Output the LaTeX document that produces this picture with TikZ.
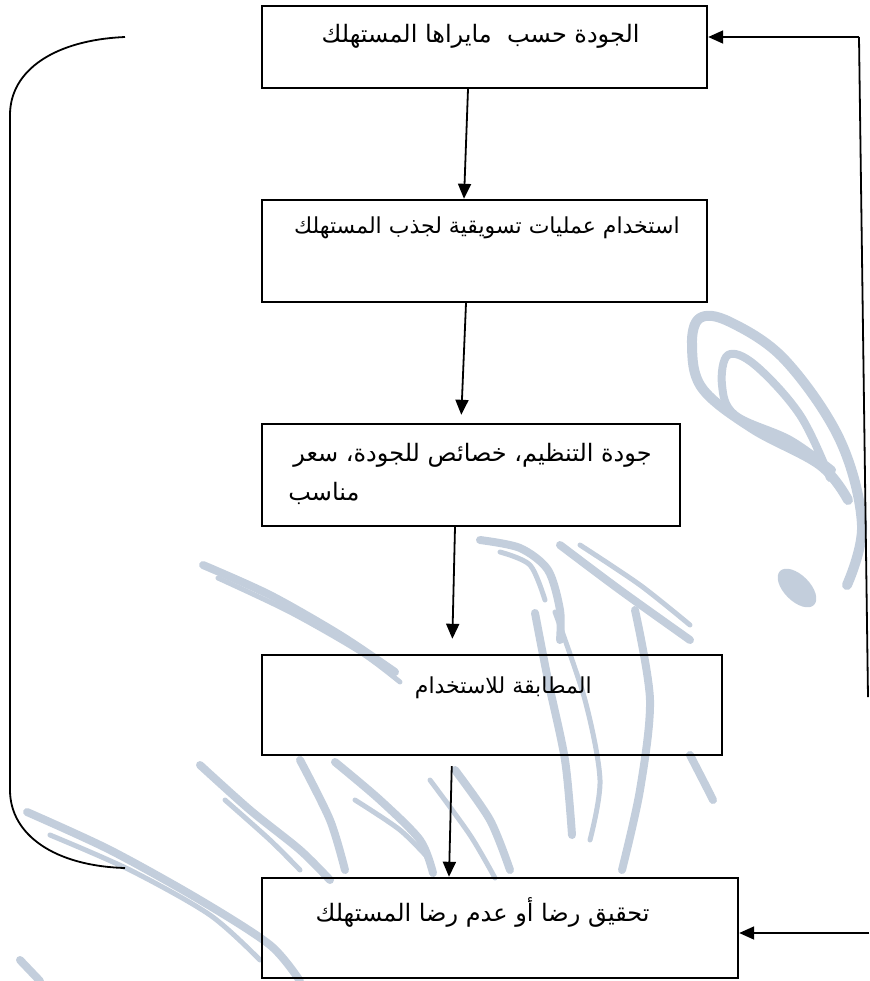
\documentclass[tikz,border=0pt]{standalone}
\usepackage{fontspec}
\newfontfamily\arabicfont[Script=Arabic]{DejaVu Sans}
\TeXXeTstate=1
\usetikzlibrary{arrows.meta,calc}
\definecolor{wm}{HTML}{C3CEDC}
\begin{document}
\begin{tikzpicture}[x=0.5pt,y=-0.5pt,
  box/.style={draw,line width=1.2pt,rectangle,inner sep=0pt},
  lbl/.style={font=\arabicfont\fontsize{12}{14}\selectfont,inner sep=0pt},
  conn/.style={line width=0.9pt,-{Triangle[length=7.5pt,width=6.5pt]}},
  plain/.style={line width=0.9pt},
  wmk/.style={wm,line width=4pt,line cap=round,line join=round}]
\useasboundingbox (0,0) rectangle (869,981);

% light calligraphic background mark
\begin{scope}
  % large leaf on the right
  \draw[wmk,line width=5pt] plot[smooth,tension=0.6] coordinates
    {(847,585) (862,525) (840,440) (785,360) (730,322) (700,318) (692,345) (702,388) (752,428) (820,465) (848,500)};
  \draw[wmk] plot[smooth,tension=0.6] coordinates
    {(830,478) (800,415) (755,365) (728,355) (722,385) (735,415) (790,440) (832,470)};
  \fill[wm,rotate around={-45:(797,588)}] (797,588) ellipse (24 and 13);
  % upper-left sweep
  \draw[wmk] plot[smooth] coordinates {(203,565) (270,595) (340,635) (395,672)};
  \draw[wmk,line width=2.5pt] plot[smooth] coordinates {(218,578) (290,612) (360,652) (400,682)};
  % middle curls
  \draw[wmk] plot[smooth] coordinates {(480,540) (520,548) (548,570) (560,610) (560,640)};
  \draw[wmk,line width=2.5pt] plot[smooth] coordinates {(500,552) (530,565) (545,600)};
  \draw[wmk] plot[smooth] coordinates {(560,545) (620,590) (690,640)};
  \draw[wmk,line width=2.5pt] plot[smooth] coordinates {(580,545) (640,585) (690,625)};
  % lower strokes
  \draw[wmk] plot[smooth] coordinates {(535,613) (548,680) (565,760) (572,835)};
  \draw[wmk,line width=2.5pt] plot[smooth] coordinates {(555,612) (585,700) (600,780) (590,840)};
  \draw[wmk] plot[smooth] coordinates {(635,610) (650,700) (640,790) (622,870)};
  \draw[wmk] plot[smooth] coordinates {(690,755) (708,790) (713,800)};
  \draw[wmk] plot[smooth] coordinates {(455,770) (490,820) (510,870)};
  \draw[wmk,line width=2.5pt] plot[smooth] coordinates {(430,780) (470,835) (495,878)};
  \draw[wmk] plot[smooth] coordinates {(335,762) (380,800) (420,840) (433,873)};
  \draw[wmk,line width=2.5pt] plot[smooth] coordinates {(355,800) (400,830) (430,860)};
  \draw[wmk] plot[smooth] coordinates {(300,760) (330,820) (345,870)};
  \draw[wmk] plot[smooth] coordinates {(200,765) (250,810) (300,850) (330,880)};
  \draw[wmk,line width=2.5pt] plot[smooth] coordinates {(225,800) (270,840) (300,870)};
  % bottom-left sweep
  \draw[wmk] plot[smooth] coordinates {(27,812) (110,850) (200,900) (270,945) (300,981)};
  \draw[wmk,line width=2.5pt] plot[smooth] coordinates {(50,835) (130,870) (210,915) (260,960)};
  \draw[wmk] plot[smooth] coordinates {(20,960) (40,981)};
\end{scope}

% boxes
\node[box,minimum width=222.5pt,minimum height=41pt] (b1) at (484.5,47) {};
\node[box,minimum width=222.5pt,minimum height=51pt] (b2) at (484.5,251) {};
\node[box,minimum width=209pt,minimum height=51pt] (b3) at (471,475) {};
\node[box,minimum width=230pt,minimum height=50pt] (b4) at (492,705) {};
\node[box,minimum width=238pt,minimum height=50pt] (b5) at (500,928) {};

% labels
\node[lbl,anchor=east] (t1) at (640,36) {\beginR الجودة حسب\ \ مايراها المستهلك\endR};
\node[lbl,anchor=east,font=\arabicfont\fontsize{11}{13}\selectfont] (t2) at (680,228) {\beginR استخدام عمليات تسويقية لجذب المستهلك\endR};
\node[lbl,anchor=east] (t3) at (652,455) {\beginR جودة التنظيم، خصائص للجودة، سعر\endR};
\node[lbl,anchor=west] (t3b) at (288,493) {\beginR مناسب\endR};
\node[lbl,anchor=east,font=\arabicfont\fontsize{11}{13}\selectfont] (t4) at (592,688) {\beginR المطابقة للاستخدام\endR};
\node[lbl,anchor=east] (t5) at (650,912) {\beginR تحقيق رضا أو عدم رضا المستهلك\endR};

% downward flow
\draw[conn] ($(b1.south)+(-16.5,0)$) -- ($(b2.north)+(-20.5,0)$);
\draw[conn,shorten >=4pt] ($(b2.south)+(-18.5,0)$) -- ($(b3.north)+(-10,0)$);
\draw[conn,shorten >=7.5pt] ($(b3.south)+(-16,0)$) -- ($(b4.north)+(-40,0)$);
\draw[conn,shorten <=5pt] ($(b4.south)+(-40,0)$) -- ($(b5.north)+(-51,0)$);

% feedback line on the right
\coordinate (rtop) at (859,37);
\coordinate (rend) at (868,697);
\coordinate (rbot) at (869,933);
\draw[plain] (rend) -- (rtop);
\draw[conn] (rtop) -- (rtop -| b1.east);
\draw[conn] (rbot) -- (rbot -| b5.east);

% bracket on the left
\coordinate (ltop) at (125,37);
\coordinate (lbot) at (125,868);
\draw[plain] (ltop) .. controls (55,40) and (10,70) .. (10,115) -- (10,790)
  .. controls (10,835) and (55,866) .. (lbot);
\end{tikzpicture}
\end{document}
